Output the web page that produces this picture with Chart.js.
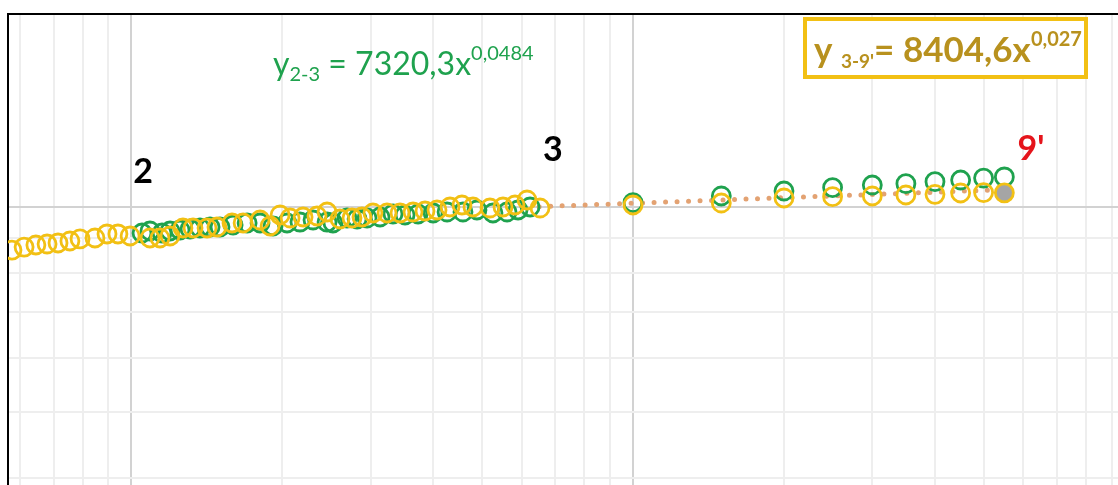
<!DOCTYPE html>
<html>
<head>
<meta charset="utf-8">
<script src="https://cdn.jsdelivr.net/npm/chart.js@4.4.1/dist/chart.umd.min.js"></script>
<style>
  html, body { margin: 0; padding: 0; background: #fff; overflow: hidden; }
  #wrap { position: relative; width: 1118px; height: 485px; }
</style>
</head>
<body>
<div id="wrap"><canvas id="powerChart" width="1118" height="485"></canvas></div>
<script>
// stage 2-3, dense measurements
var greenDenseX = [105.0, 108.9, 115.1, 119.4, 125.0, 130.9, 137.0, 143.5, 150.2, 159.5, 170.1, 180.5, 191.6, 204.3, 216.8, 230.2, 245.5, 252.3, 269.1, 281.8, 295.0, 313.1, 332.3, 351.2, 372.8, 399.5, 425.9, 458.2, 488.6, 525.8, 560.9, 589.9, 623.4];
var greenDenseY = [9157, 9220, 9157, 9220, 9251, 9282, 9314, 9345, 9345, 9409, 9473, 9473, 9377, 9473, 9504, 9569, 9504, 9473, 9634, 9602, 9634, 9667, 9766, 9733, 9766, 9799, 9832, 9832, 9899, 9799, 9832, 9899, 10000];

var yellowDenseX = [57.8, 61.1, 64.5, 67.9, 71.4, 75.4, 79.0, 84.6, 89.4, 94.0, 99.4, 108.9, 114.0, 119.4, 126.7, 132.7, 141.5, 148.1, 158.7, 167.0, 180.5, 189.0, 197.9, 207.2, 219.9, 234.4, 245.5, 260.5, 275.3, 288.2, 303.1, 323.3, 343.2, 364.3, 384.9, 406.7, 431.7, 456.1, 479.7, 518.6, 550.6, 581.8, 614.8, 652.6];
var yellowDenseY = [8644, 8732, 8793, 8822, 8853, 8913, 8974, 9004, 9127, 9127, 9065, 9004, 9004, 9065, 9314, 9314, 9314, 9345, 9473, 9473, 9569, 9377, 9733, 9634, 9667, 9700, 9832, 9602, 9634, 9667, 9799, 9799, 9799, 9832, 9866, 9899, 10000, 10068, 10000, 9966, 10000, 10068, 10240, 9966];

// stage 3-9', sparse measurements
var sparseX = [1000, 1500, 2000, 2500, 3000, 3500, 4000, 4500, 5000, 5500];
var greenSparseY = [10147, 10380, 10556, 10680, 10773, 10820, 10894, 10957, 11030, 11070];
var yellowSparseY = [10068, 10136, 10310, 10355, 10380, 10415, 10440, 10486, 10500, 10490];

// trend 3-9' end points
var trendX = [650, 5500];
var trendY = [10010, 10605];

// point 9'
var lastX = [5500];
var lastY = [10490];

// axis grid values
var xGridValues = [60, 70, 80, 90, 100, 200, 300, 400, 500, 600, 700, 800, 900, 1000, 2000, 3000, 4000, 5000, 6000, 7000, 8000, 9000];
var yGridValues = [4000, 5000, 6000, 7000, 8000, 9000, 10000];

// stage labels and where they sit
var stageLabels = ['2', '3', "9'"];
var stageLabelX = [105.5, 692, 6217];
var stageLabelY = [9157, 10000, 10490];

function toPoints(xs, ys) {
  return xs.map(function (x, i) { return { x: x, y: ys[i] }; });
}

var GREEN = '#1fa24e';
var YELLOW = '#f2c014';

function gridColor(ctx) {
  var v = ctx.tick && ctx.tick.value;
  var lg = Math.log10(v);
  return Math.abs(lg - Math.round(lg)) < 1e-6 ? '#d2d2d2' : '#eeeeee';
}

// text with sub/superscript runs
function drawRuns(ctx, runs, x, y, color, bold) {
  ctx.save();
  ctx.fillStyle = color;
  ctx.textBaseline = 'alphabetic';
  ctx.textAlign = 'left';
  runs.forEach(function (r) {
    ctx.font = (bold ? 'bold ' : '') + r.size + 'px Lato';
    ctx.fillText(r.t, x, y + (r.dy || 0));
    x += ctx.measureText(r.t).width;
  });
  ctx.restore();
}

var annotations = {
  id: 'annotations',
  afterDatasetsDraw: function (chart) {
    var ctx = chart.ctx;
    var xs = chart.scales.x, ys = chart.scales.y;

    // fit 2-3
    drawRuns(ctx, [
      { t: 'y', size: 32 },
      { t: '2-3', size: 20, dy: 6 },
      { t: ' = 7320,3x', size: 32 },
      { t: '0,0484', size: 20, dy: -15 }
    ], 273, 75, GREEN, false);

    // fit 3-9' in a box
    ctx.save();
    ctx.fillStyle = '#fff';
    ctx.strokeStyle = YELLOW;
    ctx.lineWidth = 4;
    ctx.fillRect(805, 19, 281, 58);
    ctx.strokeRect(805, 19, 281, 58);
    ctx.restore();
    drawRuns(ctx, [
      { t: 'y ', size: 35 },
      { t: "3-9'", size: 19, dy: 6 },
      { t: '= 8404,6x', size: 35 },
      { t: '0,027', size: 20, dy: -16 }
    ], 814, 62, '#b8911e', true);

    // stage markers
    ctx.save();
    ctx.font = 'bold 34px Lato';
    ctx.textAlign = 'center';
    ctx.textBaseline = 'alphabetic';
    var offsets = [50, 46, 33];
    stageLabels.forEach(function (lbl, i) {
      ctx.fillStyle = i === 2 ? '#e5141b' : '#000';
      ctx.fillText(lbl, xs.getPixelForValue(stageLabelX[i]), ys.getPixelForValue(stageLabelY[i]) - offsets[i]);
    });
    ctx.restore();
  }
};

var chart = new Chart(document.getElementById('powerChart').getContext('2d'), {
  type: 'scatter',
  data: {
    datasets: [
      {
        label: "9'",
        data: toPoints(lastX, lastY),
        pointRadius: 9,
        pointBackgroundColor: '#a5a5a5',
        pointBorderColor: YELLOW,
        pointBorderWidth: 2.8,
        order: 0
      },
      {
        label: 'yellow',
        data: toPoints(yellowDenseX.concat(sparseX.slice(0, 9)), yellowDenseY.concat(yellowSparseY.slice(0, 9))),
        pointRadius: 9,
        pointBackgroundColor: 'rgba(0,0,0,0)',
        pointBorderColor: YELLOW,
        pointBorderWidth: 2.8,
        order: 1
      },
      {
        label: 'green',
        data: toPoints(greenDenseX.concat(sparseX), greenDenseY.concat(greenSparseY)),
        pointRadius: 9,
        pointBackgroundColor: 'rgba(0,0,0,0)',
        pointBorderColor: GREEN,
        pointBorderWidth: 2.8,
        order: 2
      },
      {
        label: 'trend',
        data: toPoints(trendX, trendY),
        showLine: true,
        borderColor: '#e3a272',
        borderWidth: 5,
        borderDash: [0, 11.5],
        borderCapStyle: 'round',
        pointRadius: 0,
        order: 3
      }
    ]
  },
  options: {
    responsive: false,
    animation: false,
    layout: { autoPadding: false, padding: { left: 8, top: 14, right: 0, bottom: 0 } },
    plugins: { legend: { display: false }, tooltip: { enabled: false } },
    scales: {
      x: {
        type: 'logarithmic',
        position: 'top',
        min: 56.75,
        max: 9267,
        afterBuildTicks: function (scale) {
          scale.ticks = xGridValues.map(function (v) { return { value: v }; });
        },
        ticks: { display: false },
        grid: { color: gridColor, lineWidth: 2, drawTicks: false },
        border: { display: true, color: '#000', width: 2 }
      },
      y: {
        type: 'logarithmic',
        position: 'left',
        min: 3901,
        max: 19223,
        afterBuildTicks: function (scale) {
          scale.ticks = yGridValues.map(function (v) { return { value: v }; });
        },
        ticks: { display: false },
        grid: { color: gridColor, lineWidth: 2, drawTicks: false },
        border: { display: true, color: '#000', width: 2 }
      }
    }
  },
  plugins: [annotations]
});
</script>
</body>
</html>
